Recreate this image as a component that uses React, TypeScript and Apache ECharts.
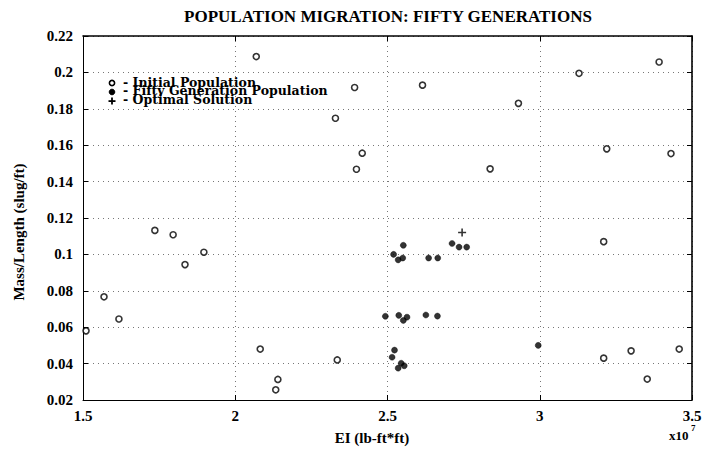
import React, { useEffect, useRef } from "react";
import * as echarts from "echarts";

// EI values in units of 1e7 lb-ft*ft, Mass/Length in slug/ft
const initialPopulation: number[][] = [
  [1.51, 0.058],
  [1.569, 0.0767],
  [1.618, 0.0645],
  [1.736, 0.1132],
  [1.796, 0.1108],
  [1.835, 0.0944],
  [1.897, 0.1012],
  [2.069, 0.2087],
  [2.082, 0.048],
  [2.133, 0.0256],
  [2.14, 0.0313],
  [2.329, 0.1748],
  [2.335, 0.042],
  [2.392, 0.1917],
  [2.398, 0.1468],
  [2.417, 0.1556],
  [2.615, 0.193],
  [2.837, 0.147],
  [2.93, 0.183],
  [3.129, 0.1995],
  [3.22, 0.158],
  [3.21, 0.107],
  [3.21, 0.043],
  [3.3, 0.047],
  [3.353, 0.0315],
  [3.392, 0.2057],
  [3.431, 0.1554],
  [3.458, 0.048],
];

const fiftyGenerationPopulation: number[][] = [
  [2.52, 0.1],
  [2.535, 0.097],
  [2.55, 0.098],
  [2.552, 0.105],
  [2.635, 0.098],
  [2.665, 0.098],
  [2.712, 0.106],
  [2.735, 0.104],
  [2.76, 0.104],
  [2.493, 0.066],
  [2.537, 0.0665],
  [2.552, 0.0637],
  [2.564, 0.0655],
  [2.626, 0.0667],
  [2.664, 0.0661],
  [2.523, 0.0474],
  [2.515, 0.0435],
  [2.545, 0.0402],
  [2.555, 0.0388],
  [2.535, 0.0375],
  [2.995, 0.05],
];

const optimalSolution: number[][] = [[2.745, 0.112]];

const xTickValues = [1.5, 2, 2.5, 3, 3.5];
const yTickValues = [0.02, 0.04, 0.06, 0.08, 0.1, 0.12, 0.14, 0.16, 0.18, 0.2, 0.22];

const titleText = "POPULATION MIGRATION: FIFTY GENERATIONS";
const xAxisTitle = "EI (lb-ft*ft)";
const yAxisTitle = "Mass/Length (slug/ft)";
const legendLabels = ["- Initial Population", "- Fifty Generation Population", "- Optimal Solution"];

const SERIF = "'Liberation Serif', 'DejaVu Serif', serif";
const WIDE_SERIF = "'DejaVu Serif', 'Liberation Serif', serif";
const PLUS_PATH = "path://M4,0H6V4H10V6H6V10H4V6H0V4H4Z";

export default function App() {
  const ref = useRef<HTMLDivElement>(null);

  useEffect(() => {
    if (!ref.current) return;
    const chart = echarts.init(ref.current, undefined, { renderer: "svg" });

    const baseAxisLabel = {
      color: "#000",
      fontFamily: SERIF,
      fontWeight: "bold" as const,
      fontSize: 15,
    };
    const gridLine = { show: true, lineStyle: { type: [1, 4] as any, color: "#777", width: 1 } };

    const option: any = {
      animation: false,
      backgroundColor: "#fff",
      grid: { left: 83, right: 14, top: 36, bottom: 52 },
      xAxis: [
        {
          type: "value",
          min: xTickValues[0],
          max: xTickValues[xTickValues.length - 1],
          interval: 0.5,
          axisLine: { show: true, lineStyle: { color: "#000", width: 1 } },
          axisTick: { show: true, inside: true, length: 5, lineStyle: { color: "#000" } },
          axisLabel: { ...baseAxisLabel, margin: 8, formatter: (v: number) => String(+v.toFixed(1)) },
          splitLine: gridLine,
        },
        {
          type: "value",
          position: "top",
          min: xTickValues[0],
          max: xTickValues[xTickValues.length - 1],
          interval: 0.5,
          axisLine: { show: true, lineStyle: { color: "#000", width: 1.6 } },
          axisTick: { show: true, inside: true, length: 5, lineStyle: { color: "#000" } },
          axisLabel: { show: false },
          splitLine: { show: false },
        },
      ],
      yAxis: [
        {
          type: "value",
          min: yTickValues[0],
          max: yTickValues[yTickValues.length - 1],
          interval: 0.02,
          axisLine: { show: true, lineStyle: { color: "#000", width: 1 } },
          axisTick: { show: true, inside: true, length: 5, lineStyle: { color: "#000" } },
          axisLabel: { ...baseAxisLabel, margin: 10, formatter: (v: number) => String(+v.toFixed(2)) },
          splitLine: gridLine,
        },
        {
          type: "value",
          position: "right",
          min: yTickValues[0],
          max: yTickValues[yTickValues.length - 1],
          interval: 0.02,
          axisLine: { show: true, lineStyle: { color: "#000", width: 1.6 } },
          axisTick: { show: true, inside: true, length: 5, lineStyle: { color: "#000" } },
          axisLabel: { show: false },
          splitLine: { show: false },
        },
      ],
      series: [
        {
          name: "Initial Population",
          type: "scatter",
          data: initialPopulation,
          symbol: "circle",
          symbolSize: 6,
          itemStyle: { color: "#fff", borderColor: "#000", borderWidth: 1.6 },
          z: 3,
        },
        {
          name: "Fifty Generation Population",
          type: "scatter",
          data: fiftyGenerationPopulation,
          symbol: "circle",
          symbolSize: 6,
          itemStyle: { color: "#000", borderColor: "#000", borderWidth: 0.5 },
          z: 4,
        },
        {
          name: "Optimal Solution",
          type: "scatter",
          data: optimalSolution,
          symbol: PLUS_PATH,
          symbolSize: 8,
          itemStyle: { color: "#000" },
          z: 5,
        },
      ],
      graphic: [
        {
          type: "text",
          x: 388,
          y: 16,
          style: {
            text: titleText,
            fill: "#000",
            font: `bold 17px ${SERIF}`,
            textAlign: "center",
            textVerticalAlign: "middle",
          },
        },
        {
          type: "text",
          x: 372,
          y: 438,
          style: {
            text: xAxisTitle,
            fill: "#000",
            font: `bold 15px ${SERIF}`,
            textAlign: "center",
            textVerticalAlign: "middle",
          },
        },
        {
          type: "text",
          x: 19,
          y: 232,
          rotation: Math.PI / 2,
          style: {
            text: yAxisTitle,
            fill: "#000",
            font: `bold 15px ${SERIF}`,
            textAlign: "center",
            textVerticalAlign: "middle",
          },
        },
        {
          type: "text",
          x: 669,
          y: 435,
          style: { text: "x10", fill: "#000", font: `bold 13px ${SERIF}`, textAlign: "left", textVerticalAlign: "middle" },
        },
        {
          type: "text",
          x: 691,
          y: 428,
          style: { text: "7", fill: "#000", font: `bold 9px ${SERIF}`, textAlign: "left", textVerticalAlign: "middle" },
        },
        // legend markers
        {
          type: "circle",
          shape: { cx: 112, cy: 83, r: 2.6 },
          style: { fill: "#fff", stroke: "#000", lineWidth: 1.6 },
        },
        {
          type: "circle",
          shape: { cx: 112, cy: 92, r: 2.8 },
          style: { fill: "#000", stroke: "#000", lineWidth: 1 },
        },
        {
          type: "rect",
          shape: { x: 108.5, y: 100.2, width: 7, height: 1.8 },
          style: { fill: "#000" },
        },
        {
          type: "rect",
          shape: { x: 111.1, y: 97.6, width: 1.8, height: 7 },
          style: { fill: "#000" },
        },
        ...legendLabels.map((t, i) => ({
          type: "text",
          x: 123,
          y: 82 + i * 8.8,
          style: { text: t, fill: "#000", font: `bold 12.5px ${WIDE_SERIF}`, textAlign: "left", textVerticalAlign: "middle" },
        })),
      ],
    };

    chart.setOption(option);
    return () => chart.dispose();
  }, []);

  return (
    <div
      ref={ref}
      style={{ position: "absolute", left: 0, top: 0, width: 706, height: 452 }}
    />
  );
}
